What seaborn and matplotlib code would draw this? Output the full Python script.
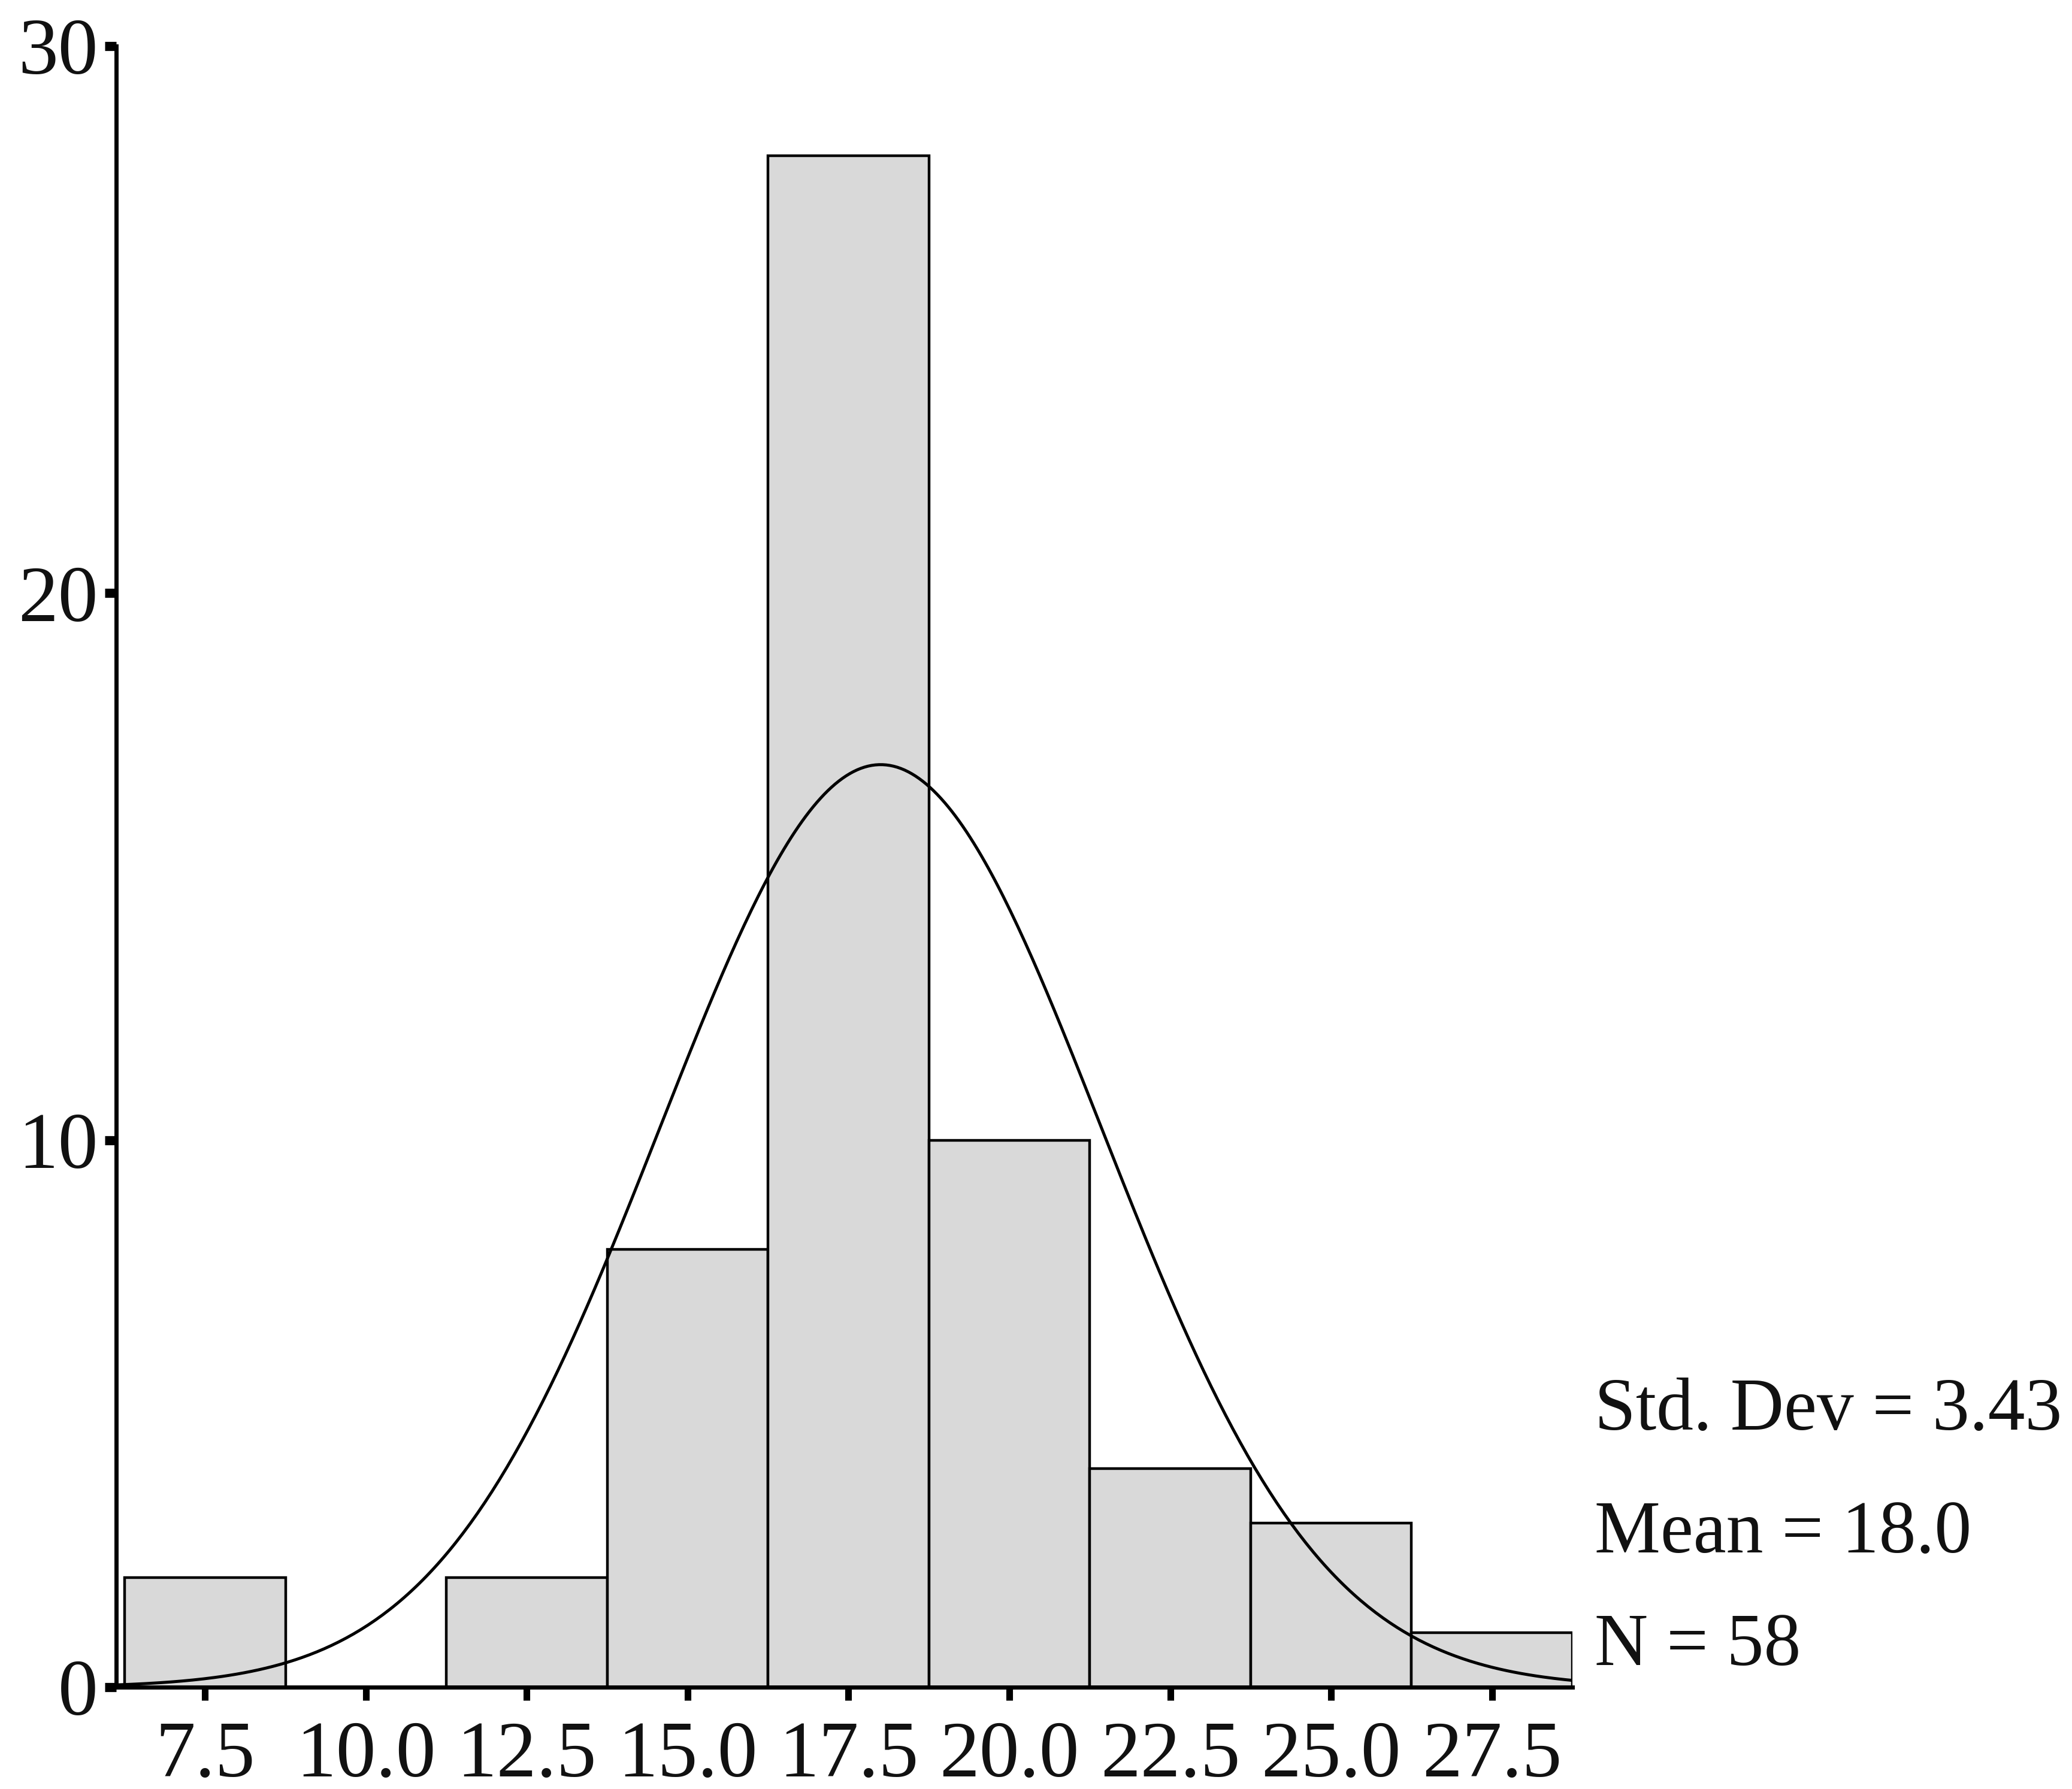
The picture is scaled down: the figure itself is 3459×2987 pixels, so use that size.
import numpy as np
import pandas as pd
import matplotlib
matplotlib.use("Agg")
import matplotlib.pyplot as plt
import seaborn as sns

# ---- data ----
bin_centers = [7.5, 10.0, 12.5, 15.0, 17.5, 20.0, 22.5, 25.0, 27.5]
counts = [2, 0, 2, 8, 28, 10, 4, 3, 1]
bin_width = 2.5
std_dev = 3.43
mean = 18.0
n_total = 58
x_ticks = [7.5, 10.0, 12.5, 15.0, 17.5, 20.0, 22.5, 25.0, 27.5]
x_tick_labels = ["7.5", "10.0", "12.5", "15.0", "17.5", "20.0", "22.5", "25.0", "27.5"]
y_ticks = [0, 10, 20, 30]
stats_lines = ["Std. Dev = 3.43", "Mean = 18.0", "N = 58"]

sns.set_style("white")
plt.rcParams['font.family'] = ['Liberation Serif', 'DejaVu Serif']

W, H = 3459, 2987
dpi = 100
fig = plt.figure(figsize=(W / dpi, H / dpi), dpi=dpi)
ax = fig.add_axes([194 / W, 1 - 2817 / H, (2625 - 194) / W, (2817 - 77) / H])

edges = [c - bin_width / 2 for c in bin_centers] + [bin_centers[-1] + bin_width / 2]
df = pd.DataFrame({"value": bin_centers, "count": counts})
sns.histplot(data=df, x="value", weights="count", bins=edges, ax=ax,
             color="#d9d9d9", edgecolor="black", linewidth=3.2, alpha=1.0)

# fitted normal curve from the stated statistics
xlim = (6.12, 28.75)
xs = np.linspace(xlim[0], xlim[1], 400)
ys = n_total * bin_width * np.exp(-0.5 * ((xs - mean) / std_dev) ** 2) / (std_dev * np.sqrt(2 * np.pi))
sns.lineplot(x=xs, y=ys, ax=ax, color="black", linewidth=3.6)

ax.set_xlim(*xlim)
ax.set_ylim(0, 30)
ax.set_xticks(x_ticks)
ax.set_xticklabels(x_tick_labels)
ax.set_yticks(y_ticks)
ax.set_yticklabels([str(v) for v in y_ticks])
ax.set_xlabel("")
ax.set_ylabel("")

for s in ["top", "right"]:
    ax.spines[s].set_visible(False)
for s in ["left", "bottom"]:
    ax.spines[s].set_visible(True)
    ax.spines[s].set_color("black")
    ax.spines[s].set_linewidth(5)

ax.tick_params(axis="x", direction="out", length=16, width=8, color="black",
               labelsize=96, pad=24, bottom=True)
ax.tick_params(axis="y", direction="out", length=14, width=11, color="black",
               labelsize=96, pad=8, left=True)
for lbl in ax.get_xticklabels() + ax.get_yticklabels():
    lbl.set_color("#111111")

baselines = [2387, 2592, 2780]
for txt, yb in zip(stats_lines, baselines):
    fig.text(2662 / W, 1 - yb / H, txt, fontsize=89, va="baseline", ha="left", color="#111111")

fig.savefig("out.png", dpi=dpi, facecolor="white")
